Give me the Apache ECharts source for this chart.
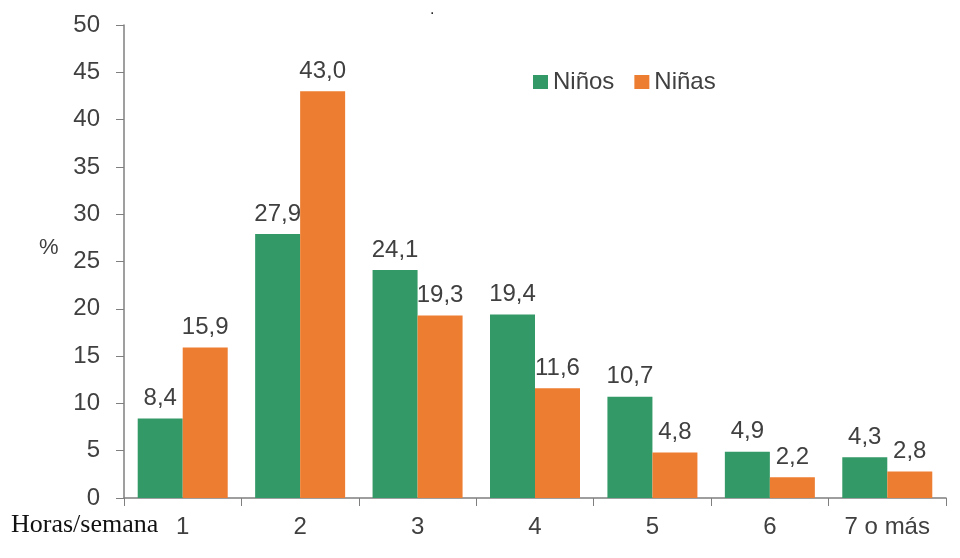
<!DOCTYPE html>
<html>
<head>
<meta charset="utf-8">
<script src="https://cdn.jsdelivr.net/npm/echarts@6/dist/echarts.min.js"></script>
<style>
  html, body { margin: 0; padding: 0; background: #fff; }
  #chart { width: 960px; height: 558px; }
</style>
</head>
<body>
<div id="chart"></div>
<script>
// Horas por semana
const categories = ['1', '2', '3', '4', '5', '6', '7 o más'];
const ninos = [8.4, 27.9, 24.1, 19.4, 10.7, 4.9, 4.3];
const ninas = [15.9, 43.0, 19.3, 11.6, 4.8, 2.2, 2.8];
const yTicks = [0, 5, 10, 15, 20, 25, 30, 35, 40, 45, 50];

const textColor = '#404040';
const axisColor = '#7f7f7f';
const font = 'Liberation Sans, Arial, sans-serif';
const fs = 24;

const chart = echarts.init(document.getElementById('chart'));

const labelOpt = {
  show: true,
  position: 'top',
  distance: 8,
  color: textColor,
  fontFamily: font,
  fontSize: fs,
  formatter: p => p.value.toFixed(1).replace('.', ',')
};

chart.setOption({
  animation: false,
  textStyle: { fontFamily: font },
  grid: { left: 124, right: 14, top: 25, bottom: 60, containLabel: false },
  legend: {
    top: 65,
    left: 528,
    itemWidth: 15,
    itemHeight: 14,
    itemGap: 20,
    icon: 'rect',
    textStyle: { color: textColor, fontSize: fs, fontFamily: font },
    data: ['Niños', 'Niñas']
  },
  xAxis: {
    type: 'category',
    data: categories,
    axisLine: { lineStyle: { color: axisColor, width: 1.5 } },
    axisTick: { show: true, length: 8, lineStyle: { color: axisColor } },
    axisLabel: { color: textColor, fontSize: fs, margin: 17, fontFamily: font }
  },
  yAxis: {
    type: 'value',
    min: yTicks[0],
    max: yTicks[yTicks.length - 1],
    interval: 5,
    splitLine: { show: false },
    axisLine: { show: true, lineStyle: { color: axisColor, width: 1.5 } },
    axisTick: { show: true, length: 8, lineStyle: { color: axisColor } },
    axisLabel: { color: textColor, fontSize: fs, margin: 24, fontFamily: font }
  },
  series: [
    {
      name: 'Niños',
      type: 'bar',
      data: ninos,
      barWidth: 45,
      barGap: '0%',
      itemStyle: { color: '#339966' },
      label: labelOpt
    },
    {
      name: 'Niñas',
      type: 'bar',
      data: ninas,
      barWidth: 45,
      barGap: '0%',
      itemStyle: { color: '#ED7D31' },
      label: labelOpt
    }
  ],
  graphic: [
    {
      type: 'text',
      left: 39,
      top: 237,
      style: { text: '%', fill: textColor, fontSize: 22, fontFamily: font }
    },
    {
      type: 'text',
      left: 11,
      top: 512,
      style: { text: 'Horas/semana', fill: '#111', fontSize: 26, fontFamily: 'Liberation Serif, Times New Roman, serif' }
    },
    {
      type: 'text',
      left: 430,
      top: 2,
      style: { text: '.', fill: '#222', fontSize: 16, fontFamily: font }
    }
  ]
});
</script>
</body>
</html>
